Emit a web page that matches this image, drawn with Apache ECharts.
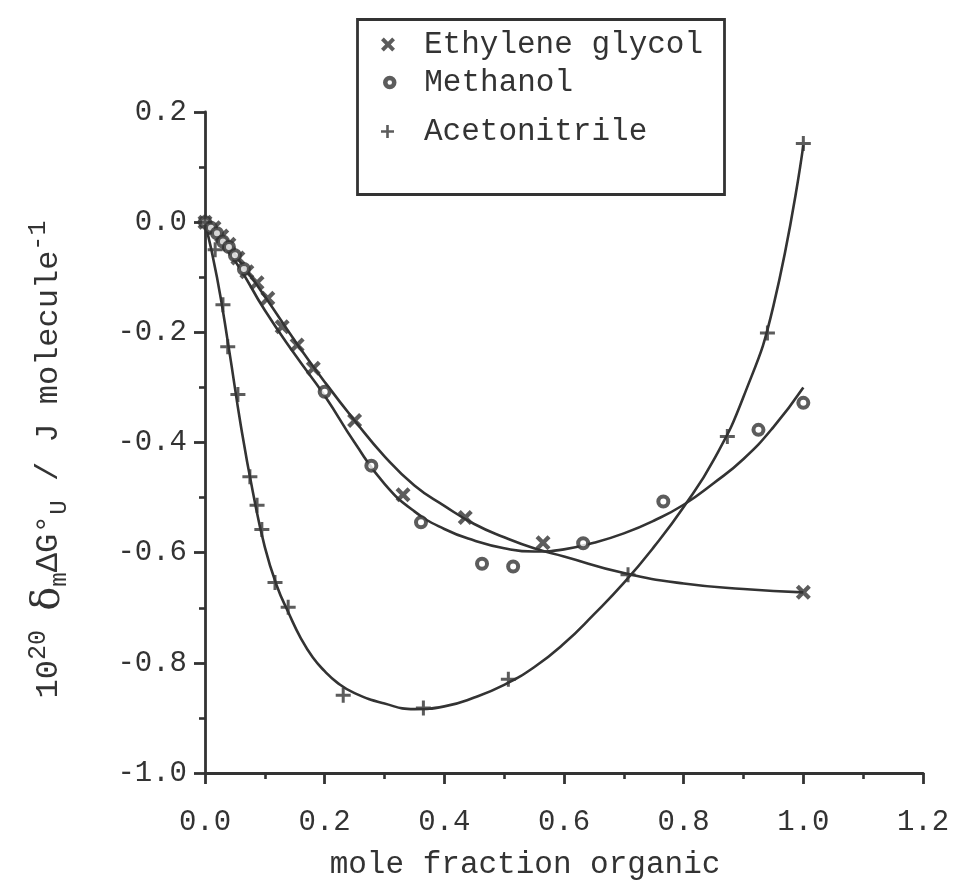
<!DOCTYPE html>
<html>
<head>
<meta charset="utf-8">
<script src="https://cdn.jsdelivr.net/npm/echarts@6/dist/echarts.min.js"></script>
<style>
html,body{margin:0;padding:0;background:#fff;}
#chart{width:955px;height:885px;}
</style>
</head>
<body>
<div id="chart"></div>
<script>
// ---- data ----
var xTicks = [0.0, 0.2, 0.4, 0.6, 0.8, 1.0, 1.2];
var yTicks = [-1.0, -0.8, -0.6, -0.4, -0.2, 0.0, 0.2];

var egX = [0, 0.015, 0.028, 0.04, 0.055, 0.07, 0.087, 0.105, 0.129, 0.154, 0.181, 0.25, 0.331, 0.435, 0.565, 1.0];
var egY = [0, -0.01, -0.025, -0.04, -0.065, -0.09, -0.11, -0.138, -0.19, -0.223, -0.265, -0.36, -0.495, -0.536, -0.582, -0.672];

var meX = [0, 0.01, 0.02, 0.03, 0.04, 0.05, 0.065, 0.2, 0.278, 0.361, 0.463, 0.515, 0.632, 0.766, 0.925, 1.0];
var meY = [0, -0.01, -0.02, -0.035, -0.045, -0.06, -0.085, -0.308, -0.442, -0.545, -0.62, -0.625, -0.583, -0.507, -0.377, -0.328];

var acX = [0, 0.017, 0.03, 0.038, 0.055, 0.075, 0.087, 0.095, 0.117, 0.139, 0.231, 0.365, 0.507, 0.707, 0.873, 0.94, 1.0];
var acY = [0, -0.05, -0.15, -0.226, -0.313, -0.462, -0.514, -0.558, -0.654, -0.699, -0.859, -0.882, -0.83, -0.64, -0.389, -0.201, 0.143];

// fitted curves as drawn in the reference
var egFitX = [0, 0.05, 0.1, 0.15, 0.2, 0.25, 0.3, 0.35, 0.4, 0.45, 0.5, 0.55, 0.6, 0.7, 0.8, 0.9, 1.0];
var egFitY = [0, -0.06, -0.135, -0.215, -0.29, -0.36, -0.425, -0.478, -0.515, -0.548, -0.572, -0.592, -0.607, -0.637, -0.656, -0.666, -0.672];

var meFitX = [0, 0.05, 0.1, 0.15, 0.2, 0.25, 0.3, 0.35, 0.4, 0.45, 0.5, 0.55, 0.6, 0.65, 0.7, 0.75, 0.8, 0.85, 0.9, 0.95, 1.0];
var meFitY = [0, -0.07, -0.16, -0.24, -0.315, -0.4, -0.475, -0.525, -0.557, -0.578, -0.592, -0.598, -0.594, -0.582, -0.565, -0.542, -0.513, -0.474, -0.43, -0.372, -0.30];

var acFitX = [0, 0.02, 0.04, 0.06, 0.08, 0.1, 0.12, 0.14, 0.16, 0.18, 0.2, 0.22, 0.25, 0.3, 0.35, 0.4, 0.45, 0.5, 0.55, 0.6, 0.65, 0.7, 0.75, 0.8, 0.85, 0.9, 0.95, 1.0];
var acFitY = [0, -0.1, -0.23, -0.37, -0.49, -0.59, -0.66, -0.71, -0.755, -0.79, -0.815, -0.835, -0.855, -0.874, -0.884, -0.879, -0.863, -0.84, -0.808, -0.765, -0.712, -0.655, -0.59, -0.517, -0.432, -0.317, -0.152, 0.14];

var names = ['Ethylene glycol', 'Methanol', 'Acetonitrile'];
var xTitle = 'mole fraction organic';

// ---- helpers ----
function pairs(xs, ys) { return xs.map(function (x, i) { return [x, ys[i]]; }); }
var INK = '#333333';
var FONT = "'Liberation Mono', 'Courier New', monospace";
var crossPath = 'path://M0,2 L2,0 L5,3 L8,0 L10,2 L7,5 L10,8 L8,10 L5,7 L2,10 L0,8 L3,5 Z';
var plusPath = 'path://M4,0 H6 V4 H10 V6 H6 V10 H4 V6 H0 V4 H4 Z';

function fitSeries(name, xs, ys) {
  return {
    name: name, type: 'line', data: pairs(xs, ys), showSymbol: false, symbol: 'none',
    smooth: 0.5, silent: true, z: 2,
    lineStyle: { color: INK, width: 2.6 }
  };
}

var chart = echarts.init(document.getElementById('chart'), null, { renderer: 'canvas' });

var legendText = { color: INK, fontFamily: FONT, fontSize: 31, padding: [0, 0, 0, 24] };

var option = {
  backgroundColor: '#fff',
  animation: false,
  grid: { left: 205, right: 32, top: 112, bottom: 111, containLabel: false },
  legend: [
    { left: 381, top: 29, padding: 0, itemWidth: 14, itemHeight: 14, selectedMode: false,
      data: [{ name: names[0], icon: crossPath }], textStyle: legendText,
      itemStyle: { color: INK, borderWidth: 0 } },
    { left: 383, top: 67, padding: 0, itemWidth: 9, itemHeight: 9, selectedMode: false,
      data: [{ name: names[1], icon: 'circle' }], textStyle: { color: INK, fontFamily: FONT, fontSize: 31, padding: [0, 0, 0, 25] },
      itemStyle: { color: '#fff', borderColor: INK, borderWidth: 4.5 } },
    { left: 381, top: 116, padding: 0, itemWidth: 13, itemHeight: 13, selectedMode: false,
      data: [{ name: names[2], icon: plusPath }], textStyle: { color: INK, fontFamily: FONT, fontSize: 31, padding: [0, 0, 0, 25] },
      itemStyle: { color: INK, borderWidth: 0 } }
  ],
  graphic: [
    { type: 'rect', left: 355, top: 17, z: 10, silent: true,
      shape: { width: 367, height: 175 },
      style: { fill: 'none', stroke: INK, lineWidth: 2.8 } }
  ],
  xAxis: {
    type: 'value', min: 0, max: 1.2, interval: 0.2,
    name: xTitle, nameLocation: 'middle', nameGap: 76,
    nameTextStyle: { color: INK, fontFamily: FONT, fontSize: 31, padding: [0, 78, 0, 0] },
    axisLine: { show: true, onZero: false, lineStyle: { color: INK, width: 2.8 } },
    axisTick: { show: true, inside: false, length: 11, lineStyle: { color: INK, width: 2.8 } },
    minorTick: { show: true, splitNumber: 2, length: 6, lineStyle: { color: INK, width: 2.6 } },
    splitLine: { show: false },
    minorSplitLine: { show: false },
    axisLabel: { color: INK, fontFamily: FONT, fontSize: 29, margin: 35,
      formatter: function (v) { return (Math.round(v * 10) / 10).toFixed(1); } }
  },
  yAxis: {
    type: 'value', min: -1.0, max: 0.2, interval: 0.2,
    name: '{n|10}{sup|20} {d|δ}{sub|m}{n|ΔG°}{sub2|U}{n| / J molecule}{sup2|-1}',
    nameLocation: 'middle', nameGap: 133, nameRotate: 90,
    nameTextStyle: {
      color: INK, fontFamily: FONT, fontSize: 32, padding: [0, 34, 0, 0],
      rich: {
        n: { fontFamily: FONT, fontSize: 32, lineHeight: 46, color: INK, verticalAlign: 'middle' },
        d: { fontFamily: "'DejaVu Serif', serif", fontSize: 40, lineHeight: 46, color: INK, verticalAlign: 'middle' },
        sup: { fontFamily: FONT, fontSize: 25, lineHeight: 22, color: INK, verticalAlign: 'top' },
        sup2: { fontFamily: FONT, fontSize: 25, lineHeight: 14, color: INK, verticalAlign: 'top' },
        sub: { fontFamily: FONT, fontSize: 24, lineHeight: 36, color: INK, verticalAlign: 'bottom' },
        sub2: { fontFamily: FONT, fontSize: 24, lineHeight: 30, color: INK, verticalAlign: 'bottom' }
      }
    },
    axisLine: { show: true, onZero: false, lineStyle: { color: INK, width: 2.8 } },
    axisTick: { show: true, inside: false, length: 11, lineStyle: { color: INK, width: 2.8 } },
    minorTick: { show: true, splitNumber: 2, length: 6, lineStyle: { color: INK, width: 2.6 } },
    splitLine: { show: false },
    minorSplitLine: { show: false },
    axisLabel: { color: INK, fontFamily: FONT, fontSize: 29, margin: 18,
      formatter: function (v) { return (Math.round(v * 10) / 10).toFixed(1); } }
  },
  series: [
    fitSeries('EG fit', egFitX, egFitY),
    fitSeries('MeOH fit', meFitX, meFitY),
    fitSeries('ACN fit', acFitX, acFitY),
    { name: names[0], type: 'scatter', data: pairs(egX, egY), symbol: crossPath, symbolSize: 15, z: 5,
      itemStyle: { color: INK } },
    { name: names[1], type: 'scatter', data: pairs(meX, meY), symbol: 'circle', symbolSize: 10, z: 5,
      itemStyle: { color: '#fff', borderColor: INK, borderWidth: 4 } },
    { name: names[2], type: 'scatter', data: pairs(acX, acY), symbol: plusPath, symbolSize: 15, z: 5,
      itemStyle: { color: INK } }
  ]
};
chart.setOption(option);
</script>
</body>
</html>
